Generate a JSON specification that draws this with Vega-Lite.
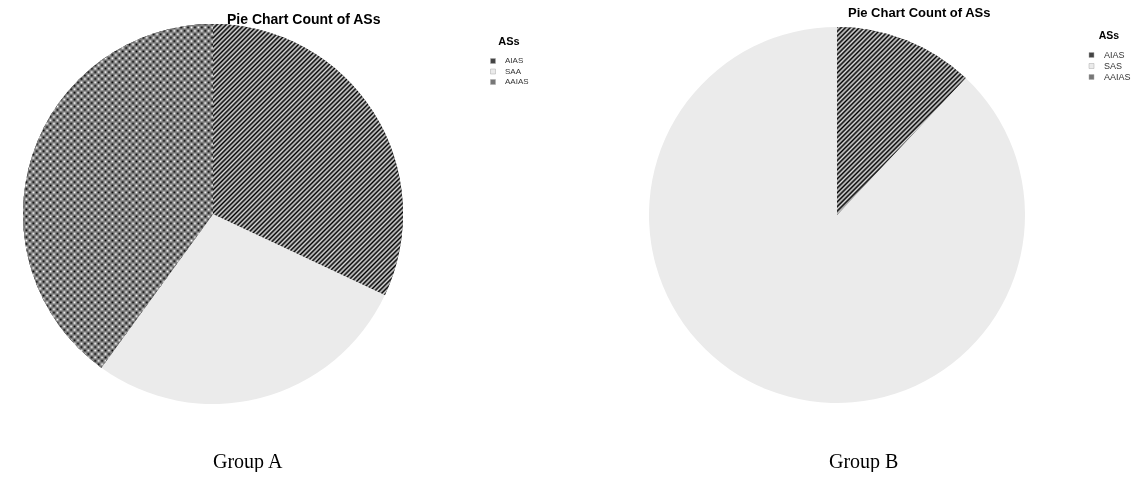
{
"$schema":"https://vega.github.io/schema/vega-lite/v6.json",
"background":"white",
"padding":{"left":23,"top":7,"right":0,"bottom":0},
"spacing":108,
"hconcat":[
{
"title":{"text":"Group A","orient":"bottom","anchor":"start","dx":190,"offset":48,"font":"Liberation Serif","fontSize":20,"fontWeight":"normal","color":"#000"},
"vconcat":[{
"width":380,"height":380,
"title":{"text":"Pie Chart Count of ASs","anchor":"start","dx":204,"offset":-3,"font":"Liberation Sans","fontSize":14,"fontWeight":"bold","color":"#000"},
"data":{"values":[{"AS":"AIAS","count":8},{"AS":"SAA","count":7},{"AS":"AAIAS","count":10}]},
"layer":[
{"mark":{"type":"arc","radius":190},
"encoding":{"theta":{"field":"count","type":"quantitative","stack":true,"scale":{"range":[-2.513274,3.769911]}},
"color":{"field":"AS","type":"nominal","scale":{"domain":["AIAS","SAA","AAIAS"],"range":["#444444","#ebebeb","#777777"]},
"legend":{"title":"ASs","orient":"right","offset":74,"padding":12,"titleFont":"Liberation Sans","titleFontSize":11,"titleFontWeight":"bold","titleColor":"#000","titleAnchor":"middle","titlePadding":10,"labelFont":"Liberation Sans","labelFontSize":8,"labelColor":"#333","symbolType":"square","symbolSize":25,"symbolStrokeColor":"#aaa","symbolStrokeWidth":0.5,"rowPadding":2.5,"labelOffset":8}}}},
{"mark":{"type":"arc","radius":190,"fill":{"gradient":"linear","x1":0,"y1":0,"x2":0.7998,"y2":1.1404,"stops":[
{"offset":0,"color":"#000"},{"offset":0.005,"color":"#ddd"},{"offset":0.01,"color":"#000"},{"offset":0.015,"color":"#ddd"},{"offset":0.02,"color":"#000"},{"offset":0.025,"color":"#ddd"},{"offset":0.03,"color":"#000"},{"offset":0.035,"color":"#ddd"},{"offset":0.04,"color":"#000"},{"offset":0.045,"color":"#ddd"},
{"offset":0.05,"color":"#000"},{"offset":0.055,"color":"#ddd"},{"offset":0.06,"color":"#000"},{"offset":0.065,"color":"#ddd"},{"offset":0.07,"color":"#000"},{"offset":0.075,"color":"#ddd"},{"offset":0.08,"color":"#000"},{"offset":0.085,"color":"#ddd"},{"offset":0.09,"color":"#000"},{"offset":0.095,"color":"#ddd"},
{"offset":0.1,"color":"#000"},{"offset":0.105,"color":"#ddd"},{"offset":0.11,"color":"#000"},{"offset":0.115,"color":"#ddd"},{"offset":0.12,"color":"#000"},{"offset":0.125,"color":"#ddd"},{"offset":0.13,"color":"#000"},{"offset":0.135,"color":"#ddd"},{"offset":0.14,"color":"#000"},{"offset":0.145,"color":"#ddd"},
{"offset":0.15,"color":"#000"},{"offset":0.155,"color":"#ddd"},{"offset":0.16,"color":"#000"},{"offset":0.165,"color":"#ddd"},{"offset":0.17,"color":"#000"},{"offset":0.175,"color":"#ddd"},{"offset":0.18,"color":"#000"},{"offset":0.185,"color":"#ddd"},{"offset":0.19,"color":"#000"},{"offset":0.195,"color":"#ddd"},
{"offset":0.2,"color":"#000"},{"offset":0.205,"color":"#ddd"},{"offset":0.21,"color":"#000"},{"offset":0.215,"color":"#ddd"},{"offset":0.22,"color":"#000"},{"offset":0.225,"color":"#ddd"},{"offset":0.23,"color":"#000"},{"offset":0.235,"color":"#ddd"},{"offset":0.24,"color":"#000"},{"offset":0.245,"color":"#ddd"},
{"offset":0.25,"color":"#000"},{"offset":0.255,"color":"#ddd"},{"offset":0.26,"color":"#000"},{"offset":0.265,"color":"#ddd"},{"offset":0.27,"color":"#000"},{"offset":0.275,"color":"#ddd"},{"offset":0.28,"color":"#000"},{"offset":0.285,"color":"#ddd"},{"offset":0.29,"color":"#000"},{"offset":0.295,"color":"#ddd"},
{"offset":0.3,"color":"#000"},{"offset":0.305,"color":"#ddd"},{"offset":0.31,"color":"#000"},{"offset":0.315,"color":"#ddd"},{"offset":0.32,"color":"#000"},{"offset":0.325,"color":"#ddd"},{"offset":0.33,"color":"#000"},{"offset":0.335,"color":"#ddd"},{"offset":0.34,"color":"#000"},{"offset":0.345,"color":"#ddd"},
{"offset":0.35,"color":"#000"},{"offset":0.355,"color":"#ddd"},{"offset":0.36,"color":"#000"},{"offset":0.365,"color":"#ddd"},{"offset":0.37,"color":"#000"},{"offset":0.375,"color":"#ddd"},{"offset":0.38,"color":"#000"},{"offset":0.385,"color":"#ddd"},{"offset":0.39,"color":"#000"},{"offset":0.395,"color":"#ddd"},
{"offset":0.4,"color":"#000"},{"offset":0.405,"color":"#ddd"},{"offset":0.41,"color":"#000"},{"offset":0.415,"color":"#ddd"},{"offset":0.42,"color":"#000"},{"offset":0.425,"color":"#ddd"},{"offset":0.43,"color":"#000"},{"offset":0.435,"color":"#ddd"},{"offset":0.44,"color":"#000"},{"offset":0.445,"color":"#ddd"},
{"offset":0.45,"color":"#000"},{"offset":0.455,"color":"#ddd"},{"offset":0.46,"color":"#000"},{"offset":0.465,"color":"#ddd"},{"offset":0.47,"color":"#000"},{"offset":0.475,"color":"#ddd"},{"offset":0.48,"color":"#000"},{"offset":0.485,"color":"#ddd"},{"offset":0.49,"color":"#000"},{"offset":0.495,"color":"#ddd"},
{"offset":0.5,"color":"#000"},{"offset":0.505,"color":"#ddd"},{"offset":0.51,"color":"#000"},{"offset":0.515,"color":"#ddd"},{"offset":0.52,"color":"#000"},{"offset":0.525,"color":"#ddd"},{"offset":0.53,"color":"#000"},{"offset":0.535,"color":"#ddd"},{"offset":0.54,"color":"#000"},{"offset":0.545,"color":"#ddd"},
{"offset":0.55,"color":"#000"},{"offset":0.555,"color":"#ddd"},{"offset":0.56,"color":"#000"},{"offset":0.565,"color":"#ddd"},{"offset":0.57,"color":"#000"},{"offset":0.575,"color":"#ddd"},{"offset":0.58,"color":"#000"},{"offset":0.585,"color":"#ddd"},{"offset":0.59,"color":"#000"},{"offset":0.595,"color":"#ddd"},
{"offset":0.6,"color":"#000"},{"offset":0.605,"color":"#ddd"},{"offset":0.61,"color":"#000"},{"offset":0.615,"color":"#ddd"},{"offset":0.62,"color":"#000"},{"offset":0.625,"color":"#ddd"},{"offset":0.63,"color":"#000"},{"offset":0.635,"color":"#ddd"},{"offset":0.64,"color":"#000"},{"offset":0.645,"color":"#ddd"},
{"offset":0.65,"color":"#000"},{"offset":0.655,"color":"#ddd"},{"offset":0.66,"color":"#000"},{"offset":0.665,"color":"#ddd"},{"offset":0.67,"color":"#000"},{"offset":0.675,"color":"#ddd"},{"offset":0.68,"color":"#000"},{"offset":0.685,"color":"#ddd"},{"offset":0.69,"color":"#000"},{"offset":0.695,"color":"#ddd"},
{"offset":0.7,"color":"#000"},{"offset":0.705,"color":"#ddd"},{"offset":0.71,"color":"#000"},{"offset":0.715,"color":"#ddd"},{"offset":0.72,"color":"#000"},{"offset":0.725,"color":"#ddd"},{"offset":0.73,"color":"#000"},{"offset":0.735,"color":"#ddd"},{"offset":0.74,"color":"#000"},{"offset":0.745,"color":"#ddd"},
{"offset":0.75,"color":"#000"},{"offset":0.755,"color":"#ddd"},{"offset":0.76,"color":"#000"},{"offset":0.765,"color":"#ddd"},{"offset":0.77,"color":"#000"},{"offset":0.775,"color":"#ddd"},{"offset":0.78,"color":"#000"},{"offset":0.785,"color":"#ddd"},{"offset":0.79,"color":"#000"},{"offset":0.795,"color":"#ddd"},
{"offset":0.8,"color":"#000"},{"offset":0.805,"color":"#ddd"},{"offset":0.81,"color":"#000"},{"offset":0.815,"color":"#ddd"},{"offset":0.82,"color":"#000"},{"offset":0.825,"color":"#ddd"},{"offset":0.83,"color":"#000"},{"offset":0.835,"color":"#ddd"},{"offset":0.84,"color":"#000"},{"offset":0.845,"color":"#ddd"},
{"offset":0.85,"color":"#000"},{"offset":0.855,"color":"#ddd"},{"offset":0.86,"color":"#000"},{"offset":0.865,"color":"#ddd"},{"offset":0.87,"color":"#000"},{"offset":0.875,"color":"#ddd"},{"offset":0.88,"color":"#000"},{"offset":0.885,"color":"#ddd"},{"offset":0.89,"color":"#000"},{"offset":0.895,"color":"#ddd"},
{"offset":0.9,"color":"#000"},{"offset":0.905,"color":"#ddd"},{"offset":0.91,"color":"#000"},{"offset":0.915,"color":"#ddd"},{"offset":0.92,"color":"#000"},{"offset":0.925,"color":"#ddd"},{"offset":0.93,"color":"#000"},{"offset":0.935,"color":"#ddd"},{"offset":0.94,"color":"#000"},{"offset":0.945,"color":"#ddd"},
{"offset":0.95,"color":"#000"},{"offset":0.955,"color":"#ddd"},{"offset":0.96,"color":"#000"},{"offset":0.965,"color":"#ddd"},{"offset":0.97,"color":"#000"},{"offset":0.975,"color":"#ddd"},{"offset":0.98,"color":"#000"},{"offset":0.985,"color":"#ddd"},{"offset":0.99,"color":"#000"},{"offset":0.995,"color":"#ddd"},
{"offset":1,"color":"#000"}]}},
"encoding":{"theta":{"field":"count","type":"quantitative","stack":true},"detail":{"field":"AS","type":"nominal"},
"fillOpacity":{"condition":{"test":"datum.AS === 'AIAS'","value":1},"value":0}}},
{"mark":{"type":"arc","radius":190,"fill":{"gradient":"linear","x1":0,"y1":0,"x2":0,"y2":1,"stops":[
{"offset":0,"color":"#000"},{"offset":0.01,"color":"#fff"},{"offset":0.02,"color":"#000"},{"offset":0.03,"color":"#fff"},{"offset":0.04,"color":"#000"},{"offset":0.05,"color":"#fff"},{"offset":0.06,"color":"#000"},{"offset":0.07,"color":"#fff"},{"offset":0.08,"color":"#000"},{"offset":0.09,"color":"#fff"},
{"offset":0.1,"color":"#000"},{"offset":0.11,"color":"#fff"},{"offset":0.12,"color":"#000"},{"offset":0.13,"color":"#fff"},{"offset":0.14,"color":"#000"},{"offset":0.15,"color":"#fff"},{"offset":0.16,"color":"#000"},{"offset":0.17,"color":"#fff"},{"offset":0.18,"color":"#000"},{"offset":0.19,"color":"#fff"},
{"offset":0.2,"color":"#000"},{"offset":0.21,"color":"#fff"},{"offset":0.22,"color":"#000"},{"offset":0.23,"color":"#fff"},{"offset":0.24,"color":"#000"},{"offset":0.25,"color":"#fff"},{"offset":0.26,"color":"#000"},{"offset":0.27,"color":"#fff"},{"offset":0.28,"color":"#000"},{"offset":0.29,"color":"#fff"},
{"offset":0.3,"color":"#000"},{"offset":0.31,"color":"#fff"},{"offset":0.32,"color":"#000"},{"offset":0.33,"color":"#fff"},{"offset":0.34,"color":"#000"},{"offset":0.35,"color":"#fff"},{"offset":0.36,"color":"#000"},{"offset":0.37,"color":"#fff"},{"offset":0.38,"color":"#000"},{"offset":0.39,"color":"#fff"},
{"offset":0.4,"color":"#000"},{"offset":0.41,"color":"#fff"},{"offset":0.42,"color":"#000"},{"offset":0.43,"color":"#fff"},{"offset":0.44,"color":"#000"},{"offset":0.45,"color":"#fff"},{"offset":0.46,"color":"#000"},{"offset":0.47,"color":"#fff"},{"offset":0.48,"color":"#000"},{"offset":0.49,"color":"#fff"},
{"offset":0.5,"color":"#000"},{"offset":0.51,"color":"#fff"},{"offset":0.52,"color":"#000"},{"offset":0.53,"color":"#fff"},{"offset":0.54,"color":"#000"},{"offset":0.55,"color":"#fff"},{"offset":0.56,"color":"#000"},{"offset":0.57,"color":"#fff"},{"offset":0.58,"color":"#000"},{"offset":0.59,"color":"#fff"},
{"offset":0.6,"color":"#000"},{"offset":0.61,"color":"#fff"},{"offset":0.62,"color":"#000"},{"offset":0.63,"color":"#fff"},{"offset":0.64,"color":"#000"},{"offset":0.65,"color":"#fff"},{"offset":0.66,"color":"#000"},{"offset":0.67,"color":"#fff"},{"offset":0.68,"color":"#000"},{"offset":0.69,"color":"#fff"},
{"offset":0.7,"color":"#000"},{"offset":0.71,"color":"#fff"},{"offset":0.72,"color":"#000"},{"offset":0.73,"color":"#fff"},{"offset":0.74,"color":"#000"},{"offset":0.75,"color":"#fff"},{"offset":0.76,"color":"#000"},{"offset":0.77,"color":"#fff"},{"offset":0.78,"color":"#000"},{"offset":0.79,"color":"#fff"},
{"offset":0.8,"color":"#000"},{"offset":0.81,"color":"#fff"},{"offset":0.82,"color":"#000"},{"offset":0.83,"color":"#fff"},{"offset":0.84,"color":"#000"},{"offset":0.85,"color":"#fff"},{"offset":0.86,"color":"#000"},{"offset":0.87,"color":"#fff"},{"offset":0.88,"color":"#000"},{"offset":0.89,"color":"#fff"},
{"offset":0.9,"color":"#000"},{"offset":0.91,"color":"#fff"},{"offset":0.92,"color":"#000"},{"offset":0.93,"color":"#fff"},{"offset":0.94,"color":"#000"},{"offset":0.95,"color":"#fff"},{"offset":0.96,"color":"#000"},{"offset":0.97,"color":"#fff"},{"offset":0.98,"color":"#000"},{"offset":0.99,"color":"#fff"},
{"offset":1,"color":"#000"}]}},
"encoding":{"theta":{"field":"count","type":"quantitative","stack":true},"detail":{"field":"AS","type":"nominal"},
"fillOpacity":{"condition":{"test":"datum.AS === 'AAIAS'","value":1},"value":0}}},
{"mark":{"type":"arc","radius":190,"blend":"difference","fill":{"gradient":"linear","x1":0,"y1":0,"x2":1.81,"y2":0,"stops":[
{"offset":0,"color":"#fff"},{"offset":0.01,"color":"rgba(255,255,255,0)"},{"offset":0.02,"color":"#fff"},{"offset":0.03,"color":"rgba(255,255,255,0)"},{"offset":0.04,"color":"#fff"},{"offset":0.05,"color":"rgba(255,255,255,0)"},{"offset":0.06,"color":"#fff"},{"offset":0.07,"color":"rgba(255,255,255,0)"},{"offset":0.08,"color":"#fff"},{"offset":0.09,"color":"rgba(255,255,255,0)"},
{"offset":0.1,"color":"#fff"},{"offset":0.11,"color":"rgba(255,255,255,0)"},{"offset":0.12,"color":"#fff"},{"offset":0.13,"color":"rgba(255,255,255,0)"},{"offset":0.14,"color":"#fff"},{"offset":0.15,"color":"rgba(255,255,255,0)"},{"offset":0.16,"color":"#fff"},{"offset":0.17,"color":"rgba(255,255,255,0)"},{"offset":0.18,"color":"#fff"},{"offset":0.19,"color":"rgba(255,255,255,0)"},
{"offset":0.2,"color":"#fff"},{"offset":0.21,"color":"rgba(255,255,255,0)"},{"offset":0.22,"color":"#fff"},{"offset":0.23,"color":"rgba(255,255,255,0)"},{"offset":0.24,"color":"#fff"},{"offset":0.25,"color":"rgba(255,255,255,0)"},{"offset":0.26,"color":"#fff"},{"offset":0.27,"color":"rgba(255,255,255,0)"},{"offset":0.28,"color":"#fff"},{"offset":0.29,"color":"rgba(255,255,255,0)"},
{"offset":0.3,"color":"#fff"},{"offset":0.31,"color":"rgba(255,255,255,0)"},{"offset":0.32,"color":"#fff"},{"offset":0.33,"color":"rgba(255,255,255,0)"},{"offset":0.34,"color":"#fff"},{"offset":0.35,"color":"rgba(255,255,255,0)"},{"offset":0.36,"color":"#fff"},{"offset":0.37,"color":"rgba(255,255,255,0)"},{"offset":0.38,"color":"#fff"},{"offset":0.39,"color":"rgba(255,255,255,0)"},
{"offset":0.4,"color":"#fff"},{"offset":0.41,"color":"rgba(255,255,255,0)"},{"offset":0.42,"color":"#fff"},{"offset":0.43,"color":"rgba(255,255,255,0)"},{"offset":0.44,"color":"#fff"},{"offset":0.45,"color":"rgba(255,255,255,0)"},{"offset":0.46,"color":"#fff"},{"offset":0.47,"color":"rgba(255,255,255,0)"},{"offset":0.48,"color":"#fff"},{"offset":0.49,"color":"rgba(255,255,255,0)"},
{"offset":0.5,"color":"#fff"},{"offset":0.51,"color":"rgba(255,255,255,0)"},{"offset":0.52,"color":"#fff"},{"offset":0.53,"color":"rgba(255,255,255,0)"},{"offset":0.54,"color":"#fff"},{"offset":0.55,"color":"rgba(255,255,255,0)"},{"offset":0.56,"color":"#fff"}]}},
"encoding":{"theta":{"field":"count","type":"quantitative","stack":true},"detail":{"field":"AS","type":"nominal"},
"fillOpacity":{"condition":{"test":"datum.AS === 'AAIAS'","value":1},"value":0}}}
]
}]
},
{
"title":{"text":"Group B","orient":"bottom","anchor":"start","dx":180,"offset":46,"font":"Liberation Serif","fontSize":20,"fontWeight":"normal","color":"#000"},
"vconcat":[{
"width":376,"height":382,
"title":{"text":"Pie Chart Count of ASs","anchor":"start","dx":199,"offset":4,"font":"Liberation Sans","fontSize":13,"fontWeight":"bold","color":"#000"},
"data":{"values":[{"AS":"AIAS","count":3},{"AS":"SAS","count":22},{"AS":"AAIAS","count":0}]},
"layer":[
{"mark":{"type":"arc","radius":188},
"encoding":{"theta":{"field":"count","type":"quantitative","stack":true},
"color":{"field":"AS","type":"nominal","scale":{"domain":["AIAS","SAS","AAIAS"],"range":["#444444","#ebebeb","#777777"]},
"legend":{"title":"ASs","orient":"right","offset":55,"padding":7,"titleFont":"Liberation Sans","titleFontSize":10.5,"titleFontWeight":"bold","titleColor":"#000","titleAnchor":"middle","titlePadding":9,"labelFont":"Liberation Sans","labelFontSize":9,"labelColor":"#333","symbolType":"square","symbolSize":25,"symbolStrokeColor":"#aaa","symbolStrokeWidth":0.5,"rowPadding":1,"labelOffset":8}}}},
{"mark":{"type":"arc","radius":188,"fill":{"gradient":"linear","x1":0,"y1":0,"x2":1.1428,"y2":1.6693,"stops":[
{"offset":0,"color":"#000"},{"offset":0.005,"color":"#ddd"},{"offset":0.01,"color":"#000"},{"offset":0.015,"color":"#ddd"},{"offset":0.02,"color":"#000"},{"offset":0.025,"color":"#ddd"},{"offset":0.03,"color":"#000"},{"offset":0.035,"color":"#ddd"},{"offset":0.04,"color":"#000"},{"offset":0.045,"color":"#ddd"},
{"offset":0.05,"color":"#000"},{"offset":0.055,"color":"#ddd"},{"offset":0.06,"color":"#000"},{"offset":0.065,"color":"#ddd"},{"offset":0.07,"color":"#000"},{"offset":0.075,"color":"#ddd"},{"offset":0.08,"color":"#000"},{"offset":0.085,"color":"#ddd"},{"offset":0.09,"color":"#000"},{"offset":0.095,"color":"#ddd"},
{"offset":0.1,"color":"#000"},{"offset":0.105,"color":"#ddd"},{"offset":0.11,"color":"#000"},{"offset":0.115,"color":"#ddd"},{"offset":0.12,"color":"#000"},{"offset":0.125,"color":"#ddd"},{"offset":0.13,"color":"#000"},{"offset":0.135,"color":"#ddd"},{"offset":0.14,"color":"#000"},{"offset":0.145,"color":"#ddd"},
{"offset":0.15,"color":"#000"},{"offset":0.155,"color":"#ddd"},{"offset":0.16,"color":"#000"},{"offset":0.165,"color":"#ddd"},{"offset":0.17,"color":"#000"},{"offset":0.175,"color":"#ddd"},{"offset":0.18,"color":"#000"},{"offset":0.185,"color":"#ddd"},{"offset":0.19,"color":"#000"},{"offset":0.195,"color":"#ddd"},
{"offset":0.2,"color":"#000"},{"offset":0.205,"color":"#ddd"},{"offset":0.21,"color":"#000"},{"offset":0.215,"color":"#ddd"},{"offset":0.22,"color":"#000"},{"offset":0.225,"color":"#ddd"},{"offset":0.23,"color":"#000"},{"offset":0.235,"color":"#ddd"},{"offset":0.24,"color":"#000"},{"offset":0.245,"color":"#ddd"},
{"offset":0.25,"color":"#000"},{"offset":0.255,"color":"#ddd"},{"offset":0.26,"color":"#000"},{"offset":0.265,"color":"#ddd"},{"offset":0.27,"color":"#000"},{"offset":0.275,"color":"#ddd"},{"offset":0.28,"color":"#000"},{"offset":0.285,"color":"#ddd"},{"offset":0.29,"color":"#000"},{"offset":0.295,"color":"#ddd"},
{"offset":0.3,"color":"#000"},{"offset":0.305,"color":"#ddd"},{"offset":0.31,"color":"#000"},{"offset":0.315,"color":"#ddd"},{"offset":0.32,"color":"#000"},{"offset":0.325,"color":"#ddd"},{"offset":0.33,"color":"#000"},{"offset":0.335,"color":"#ddd"},{"offset":0.34,"color":"#000"},{"offset":0.345,"color":"#ddd"},
{"offset":0.35,"color":"#000"},{"offset":0.355,"color":"#ddd"},{"offset":0.36,"color":"#000"},{"offset":0.365,"color":"#ddd"},{"offset":0.37,"color":"#000"},{"offset":0.375,"color":"#ddd"},{"offset":0.38,"color":"#000"},{"offset":0.385,"color":"#ddd"},{"offset":0.39,"color":"#000"},{"offset":0.395,"color":"#ddd"},
{"offset":0.4,"color":"#000"},{"offset":0.405,"color":"#ddd"},{"offset":0.41,"color":"#000"},{"offset":0.415,"color":"#ddd"},{"offset":0.42,"color":"#000"},{"offset":0.425,"color":"#ddd"},{"offset":0.43,"color":"#000"},{"offset":0.435,"color":"#ddd"},{"offset":0.44,"color":"#000"},{"offset":0.445,"color":"#ddd"},
{"offset":0.45,"color":"#000"},{"offset":0.455,"color":"#ddd"},{"offset":0.46,"color":"#000"},{"offset":0.465,"color":"#ddd"},{"offset":0.47,"color":"#000"},{"offset":0.475,"color":"#ddd"},{"offset":0.48,"color":"#000"},{"offset":0.485,"color":"#ddd"},{"offset":0.49,"color":"#000"},{"offset":0.495,"color":"#ddd"},
{"offset":0.5,"color":"#000"},{"offset":0.505,"color":"#ddd"},{"offset":0.51,"color":"#000"},{"offset":0.515,"color":"#ddd"},{"offset":0.52,"color":"#000"},{"offset":0.525,"color":"#ddd"},{"offset":0.53,"color":"#000"},{"offset":0.535,"color":"#ddd"},{"offset":0.54,"color":"#000"},{"offset":0.545,"color":"#ddd"},
{"offset":0.55,"color":"#000"},{"offset":0.555,"color":"#ddd"},{"offset":0.56,"color":"#000"},{"offset":0.565,"color":"#ddd"},{"offset":0.57,"color":"#000"},{"offset":0.575,"color":"#ddd"},{"offset":0.58,"color":"#000"},{"offset":0.585,"color":"#ddd"},{"offset":0.59,"color":"#000"},{"offset":0.595,"color":"#ddd"},
{"offset":0.6,"color":"#000"},{"offset":0.605,"color":"#ddd"},{"offset":0.61,"color":"#000"},{"offset":0.615,"color":"#ddd"},{"offset":0.62,"color":"#000"},{"offset":0.625,"color":"#ddd"},{"offset":0.63,"color":"#000"},{"offset":0.635,"color":"#ddd"},{"offset":0.64,"color":"#000"},{"offset":0.645,"color":"#ddd"},
{"offset":0.65,"color":"#000"},{"offset":0.655,"color":"#ddd"},{"offset":0.66,"color":"#000"},{"offset":0.665,"color":"#ddd"},{"offset":0.67,"color":"#000"},{"offset":0.675,"color":"#ddd"},{"offset":0.68,"color":"#000"},{"offset":0.685,"color":"#ddd"},{"offset":0.69,"color":"#000"},{"offset":0.695,"color":"#ddd"},
{"offset":0.7,"color":"#000"}]}},
"encoding":{"theta":{"field":"count","type":"quantitative","stack":true},"detail":{"field":"AS","type":"nominal"},
"fillOpacity":{"condition":{"test":"datum.AS === 'AIAS'","value":1},"value":0}}}
]
}]
}
],
"resolve":{"scale":{"color":"independent","theta":"independent"},"legend":{"color":"independent"}},
"config":{"view":{"stroke":null}}
}
